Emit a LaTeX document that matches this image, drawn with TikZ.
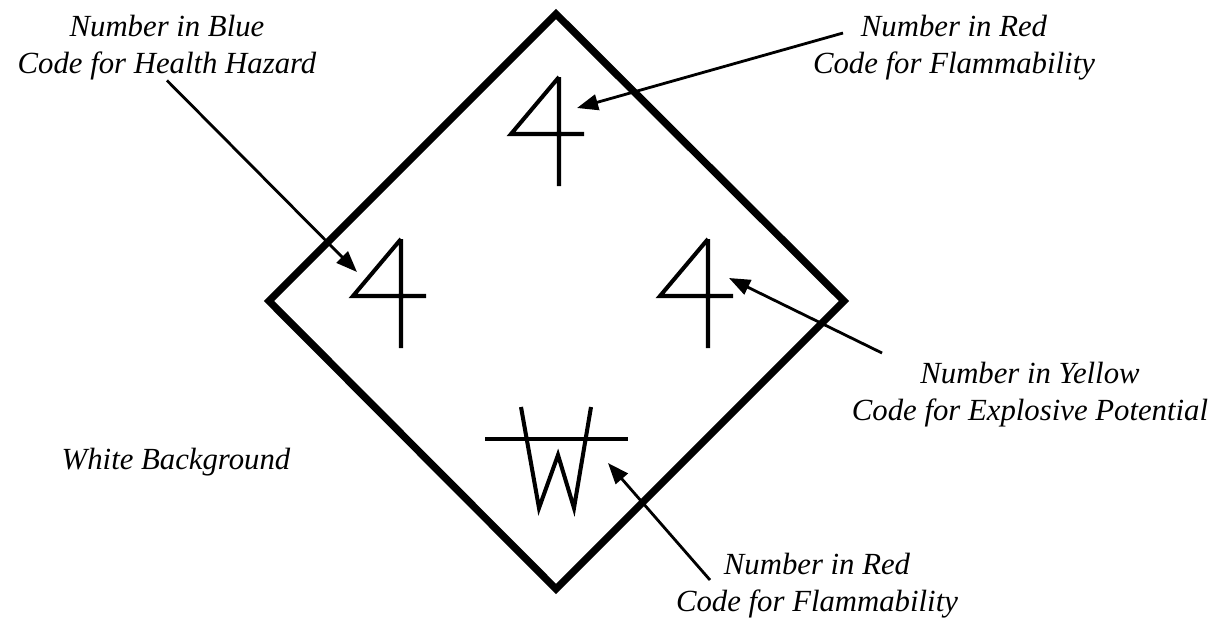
\documentclass[tikz,border=0pt]{standalone}
\usepackage{fontspec}
\setmainfont{Liberation Serif}
\usetikzlibrary{arrows.meta}
\tikzset{
	sign/.style={line width=4.2pt, line join=miter},
	glyph/.style={line width=2.3pt},
	pointer/.style={line width=1.6pt, -{Triangle[length=12pt,width=9pt]}},
	callout/.style={font=\fontsize{17.5}{21}\selectfont\itshape, align=center, inner sep=0pt}
}
% a hand drawn four, #1 is the top of its stem
\newcommand{\drawfour}[1]{\draw[glyph] (#1) -- ++(-48,57) -- ++(73,0) (#1) -- ++(0,109);}

\begin{document}
\begin{tikzpicture}[x=0.02cm, y=-0.02cm]
	\useasboundingbox (0,0) rectangle (1217,620);

	% The diamond of the sign
	\draw[sign] (556,14) -- (844,301) -- (556,589) -- (269,301) -- cycle;

	% The numbers inside the sign
	\coordinate (flam4) at (559,77);
	\coordinate (health4) at (401,239);
	\coordinate (react4) at (708,239);
	\drawfour{flam4}
	\drawfour{health4}
	\drawfour{react4}

	% W with a bar through it
	\draw[glyph] (485,439) -- (628,439);
	\draw[glyph, line join=miter] (521,407) -- (539,508) -- (558,455) -- (574,508) -- (591,407);

	% Labels
	\node[callout, anchor=north] (blue) at (167,15) {Number in Blue\\Code for Health Hazard};
	\node[callout, anchor=north] (red) at (954,15) {Number in Red\\Code for Flammability};
	\node[callout, anchor=north] (yellow) at (1030,362) {Number in Yellow\\Code for Explosive Potential};
	\node[callout, anchor=north] (special) at (817,553) {Number in Red\\Code for Flammability};
	\node[callout] (white) at (176,462) {White Background};

	% Ends of the pointers
	\coordinate (redtail) at (843,33);
	\coordinate (yellowtail) at (882,353);
	\coordinate (specialtail) at (710,580);
	\coordinate (healthtip) at (357,272);
	\coordinate (flamtip) at (577,108);
	\coordinate (reacttip) at (729,278);
	\coordinate (specialtip) at (608,463);

	% Arrows
	\draw[pointer] (blue.south) -- (healthtip);
	\draw[pointer] (redtail) -- (flamtip);
	\draw[pointer] (yellowtail) -- (reacttip);
	\draw[pointer] (specialtail) -- (specialtip);
\end{tikzpicture}
\end{document}
